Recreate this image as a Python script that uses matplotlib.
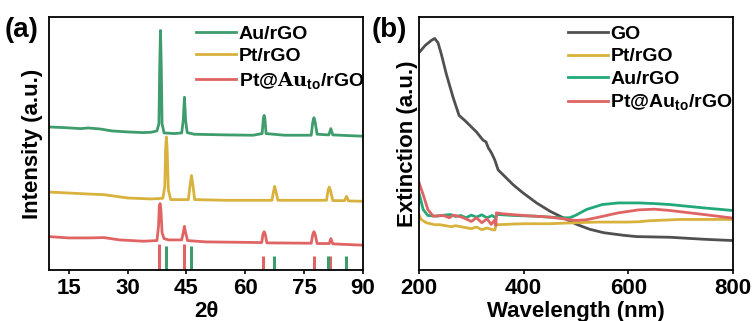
import numpy as np
import matplotlib
matplotlib.use('Agg')
import matplotlib.pyplot as plt

plt.rcParams['font.family'] = ['Liberation Sans', 'DejaVu Sans']
plt.rcParams['font.weight'] = 'bold'
plt.rcParams['mathtext.fontset'] = 'custom'
plt.rcParams['mathtext.rm'] = 'Liberation Sans'
plt.rcParams['mathtext.bf'] = 'Liberation Sans:bold'

# ----------------------------------------------------------------------------
# (a) XRD patterns (2-theta, intensity in a.u.)
# ----------------------------------------------------------------------------
au_x = [10, 14, 18, 20, 23, 26, 30, 34, 36, 37.5, 38.0, 38.2, 38.4, 38.6, 38.8, 39.3,
        42, 43.8, 44.2, 44.5, 44.8, 45.2, 47, 55, 62, 64.3, 64.6, 64.8, 65.0, 65.3,
        70, 76.8, 77.2, 77.5, 77.8, 78.3, 81.3, 81.8, 82.3, 86, 90]
au_y = [433, 431, 428, 430, 427, 421, 418, 416, 417, 421, 443, 613, 725, 613, 443, 415,
        413, 415, 453, 523, 453, 416, 411, 409, 408, 413, 458, 468, 458, 413,
        408, 408, 448, 461, 448, 411, 409, 428, 409, 407, 405]

pt_x = [10, 15, 20, 24, 30, 36, 39.0, 39.5, 39.7, 39.9, 40.1, 40.4, 41, 45.5, 45.9, 46.3,
        46.7, 47.1, 55, 66.8, 67.2, 67.5, 67.8, 68.3, 80.7, 81.1, 81.4, 81.7, 82.3,
        85.3, 85.8, 86.3, 90]
pt_y = [236, 233, 230, 228, 218, 215, 217, 253, 363, 403, 363, 243, 213, 213, 253, 286,
        253, 213, 211, 211, 238, 253, 238, 211, 211, 241, 251, 241, 210,
        210, 223, 209, 208]

ptau_x = [10, 15, 20, 24, 28, 34, 37.5, 37.9, 38.1, 38.3, 38.5, 38.8, 39.3, 40.5, 43.8,
          44.2, 44.5, 44.8, 45.3, 50, 64.2, 64.5, 64.8, 65.1, 65.5, 76.8, 77.2, 77.5,
          77.8, 78.3, 81.4, 81.8, 82.3, 90]
ptau_y = [101, 97, 97, 98, 91, 87, 89, 133, 193, 201, 183, 113, 95, 91, 91,
          113, 132, 113, 89, 85, 83, 108, 116, 108, 82, 81, 108, 116,
          108, 80, 80, 95, 79, 75]

# reference line positions and heights
ref_au_x = [38.1, 44.3, 64.6, 77.5, 81.7]
ref_au_h = [78, 78, 43, 43, 43]
ref_pt_x = [39.7, 46.3, 67.4, 81.2, 85.7]
ref_pt_h = [73, 73, 41, 41, 41]

# ----------------------------------------------------------------------------
# (b) Extinction spectra (wavelength in nm, extinction in a.u.)
# ----------------------------------------------------------------------------
go_x = [200, 212, 223.6, 230, 236.4, 242.8, 252.3, 265.1, 276.6, 287.4, 297, 309.8,
        322.5, 328, 333, 335.3, 339, 344.9, 351.3, 360.9, 380, 399.1, 424.7, 450.2,
        475.7, 501.3, 526.8, 552.3, 590.6, 616.2, 680, 743.8, 800]
go_y = [658, 680, 695, 701, 688, 653, 593, 523, 468, 453, 438, 418,
        393, 388, 368, 363, 353, 333, 303, 288, 258, 233, 203, 178,
        158, 138, 123, 113, 105, 101, 99, 93, 89]

ptg_x = [200, 204, 214, 230, 240, 262, 270, 290, 300, 310, 320, 330, 340, 345, 347,
         350, 380, 400, 450, 480, 500, 540, 600, 620, 640, 700, 800]
ptg_y = [168, 153, 143, 137, 137, 131, 134, 128, 125, 130, 122, 127, 122, 121, 135,
         137, 139, 140, 140, 142, 143, 145, 145, 146, 149, 153, 153]

aug_x = [200, 208, 217, 233, 260, 270, 280, 290, 300, 310, 320, 330, 340, 346, 350,
         380, 420, 450, 470, 488, 500, 520, 550, 581, 620, 650, 680, 743.8, 800]
aug_y = [233, 183, 165, 163, 168, 162, 165, 158, 166, 160, 167, 158, 165, 158, 168,
         165, 163, 160, 158, 158, 166, 183, 198, 203, 203, 201, 198, 188, 180]

ptaug_x = [200, 208, 217, 227, 247, 258, 265, 280, 292, 300, 310, 320, 330, 338, 344,
           347, 348, 360, 400, 450, 500, 520, 550, 581, 620, 650, 680, 743.8, 800]
ptaug_y = [265, 228, 183, 163, 165, 158, 166, 161, 153, 147, 158, 143, 155, 138, 150,
           135, 173, 170, 165, 160, 150, 152, 162, 173, 182, 184, 180, 168, 157]

green_a = '#3f9c6c'
yellow = '#d8b23c'
red = '#e06464'
green_b = '#22a879'
gray = '#505050'

fig = plt.figure(figsize=(7.53, 3.21), dpi=100)
ax1 = fig.add_axes([0.0651, 0.159, 0.417, 0.787])
ax2 = fig.add_axes([0.5564, 0.159, 0.417, 0.787])

lw = 2.0
leg_kw = dict(loc='upper right', frameon=False, fontsize=14, handlelength=2.05,
              handletextpad=0.15, borderaxespad=0.0, borderpad=0.4)

ax1.plot(au_x, au_y, color=green_a, lw=lw, label='Au/rGO')
ax1.plot(pt_x, pt_y, color=yellow, lw=lw, label='Pt/rGO')
ax1.plot(ptau_x, ptau_y, color=red, lw=lw,
         label=r'Pt@$\mathbf{Au}_{\mathregular{to}}$/rGO')
ax1.vlines(ref_au_x, 0, ref_au_h, color=red, lw=2.2)
ax1.vlines(ref_pt_x, 0, ref_pt_h, color=green_a, lw=2.2)
ax1.set_xlim(10, 90)
ax1.set_ylim(0, 765)
ax1.set_xticks([15, 30, 45, 60, 75, 90])
ax1.set_yticks([])
ax1.set_xlabel('2θ', fontsize=16, fontweight='bold', labelpad=1)
ax1.set_ylabel('Intensity (a.u.)', fontsize=16, fontweight='bold', labelpad=4)
leg1 = ax1.legend(labelspacing=0.25, bbox_to_anchor=(1.03, 1.0), **leg_kw)
for t in leg1.get_texts():
    t.set_math_fontfamily('dejavuserif')

ax2.plot(go_x, go_y, color=gray, lw=lw, label='GO')
ax2.plot(ptg_x, ptg_y, color=yellow, lw=lw, label='Pt/rGO')
ax2.plot(aug_x, aug_y, color=green_b, lw=lw, label='Au/rGO')
ax2.plot(ptaug_x, ptaug_y, color=red, lw=lw, label=r'Pt@Au$_{\mathregular{to}}$/rGO')
ax2.set_xlim(200, 800)
ax2.set_ylim(0, 765)
ax2.set_xticks([200, 400, 600, 800])
ax2.set_yticks([])
ax2.set_xlabel('Wavelength (nm)', fontsize=16, fontweight='bold', labelpad=1)
ax2.set_ylabel('Extinction (a.u.)', fontsize=16, fontweight='bold', labelpad=1)
ax2.legend(labelspacing=0.26, bbox_to_anchor=(1.025, 1.0), **leg_kw)

for ax in (ax1, ax2):
    for s in ax.spines.values():
        s.set_linewidth(1.3)
    ax.tick_params(axis='x', direction='out', length=3, width=1.2, labelsize=16, pad=3)
    for lbl in ax.get_xticklabels():
        lbl.set_fontweight('bold')

fig.text(0.006, 0.905, '(a)', fontsize=20, fontweight='bold', va='center')
fig.text(0.494, 0.905, '(b)', fontsize=20, fontweight='bold', va='center')

fig.savefig('out.png', dpi=100)
